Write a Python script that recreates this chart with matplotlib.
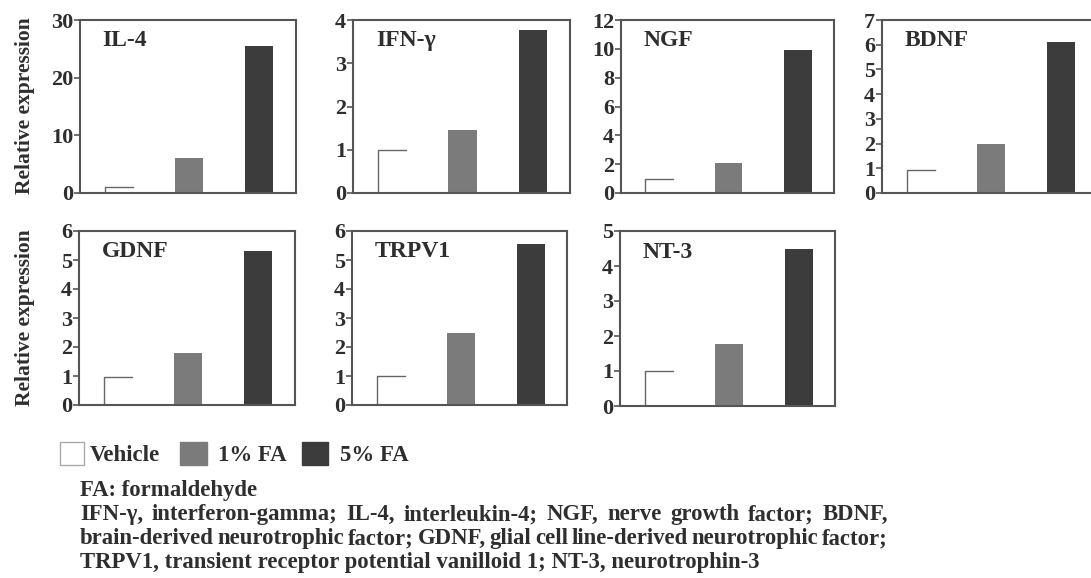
import matplotlib
matplotlib.use("Agg")
import matplotlib.pyplot as plt
from matplotlib.patches import Rectangle

plt.rcParams["font.family"] = ["Liberation Serif", "DejaVu Serif"]
plt.rcParams["font.weight"] = "bold"

# data
markers = ["IL-4", "IFN-\u03b3", "NGF", "BDNF", "GDNF", "TRPV1", "NT-3"]
vehicle = [1.05, 1.0, 0.95, 0.95, 0.97, 1.0, 1.0]
fa_1 = [6.1, 1.45, 2.05, 2.0, 1.8, 2.5, 1.78]
fa_5 = [25.5, 3.78, 9.9, 6.1, 5.3, 5.55, 4.5]
y_max = [30, 4, 12, 7, 6, 6, 5]
y_step = [10, 1, 2, 1, 1, 1, 1]
groups = ["Vehicle", "1% FA", "5% FA"]

W, H = 1091, 578
# axes boxes in pixels: left, top, width, height
boxes = [
    (80, 20, 216, 173), (353, 20, 217, 173), (621, 20, 213, 173), (882, 20, 215, 173),
    (79, 231, 216, 174), (352, 231, 215, 174), (620, 231, 215, 175),
]

TXT = "#2e2e2e"
SPINE = "#555555"
C1 = "#7b7b7b"
C5 = "#3c3c3c"

fig = plt.figure(figsize=(W / 100, H / 100), dpi=100)
fig.patch.set_facecolor("white")

for i, name in enumerate(markers):
    l, t, w, h = boxes[i]
    ax = fig.add_axes([l / W, 1 - (t + h) / H, w / W, h / H])
    x = [0, 1, 2]
    bw = 0.4
    ax.bar(x[1], fa_1[i], width=bw, color=C1, zorder=2)
    ax.bar(x[2], fa_5[i], width=bw, color=C5, zorder=2)
    # open vehicle bar: only left and top edge show in the scan
    ax.plot([x[0] - bw / 2, x[0] - bw / 2, x[0] + bw / 2], [0, vehicle[i], vehicle[i]],
            color="#666666", lw=1.0, zorder=2)
    ax.set_xlim(-0.55, 2.52)
    ax.set_ylim(0, y_max[i])
    ax.set_yticks(range(0, y_max[i] + 1, y_step[i]))
    ax.set_xticks([])
    for s in ax.spines.values():
        s.set_color(SPINE)
        s.set_linewidth(1.5)
    ax.tick_params(axis="y", length=4, width=1.2, color=SPINE, pad=1,
                   labelsize=16, labelcolor=TXT)
    ax.text(0.105, 0.88, name, transform=ax.transAxes, fontsize=17,
            color=TXT, va="center", ha="left")

for yc in [106, 318]:
    fig.text(25 / W, 1 - yc / H, "Relative expression", rotation=90,
             fontsize=15.5, color=TXT, ha="center", va="center")

# legend
leg = [(60, 24, "white", 90), (180, 27, C1, 218), (302, 26, C5, 340)]
for (lx, lw_, col, tx), lab in zip(leg, groups):
    fig.patches.append(Rectangle((lx / W, 1 - 465 / H), lw_ / W, 23 / H,
                                 transform=fig.transFigure, facecolor=col,
                                 edgecolor="#aaaaaa" if col == "white" else col, lw=1))
    fig.text(tx / W, 1 - 461 / H, lab, fontsize=16.5, color=TXT, va="baseline")

notes = [
    "FA: formaldehyde",
    "IFN-\u03b3, interferon-gamma; IL-4, interleukin-4; NGF, nerve growth factor; BDNF,",
    "brain-derived neurotrophic factor; GDNF, glial cell line-derived neurotrophic factor;",
    "TRPV1, transient receptor potential vanilloid 1; NT-3, neurotrophin-3",
]
note_base = [496, 520, 544, 568]

fig.canvas.draw()
renderer = fig.canvas.get_renderer()

# size the footnote so the last line spans the same width as in the scan
probe = fig.text(0, 0, notes[3], fontsize=10)
fs = 10 * 682 / probe.get_window_extent(renderer).width
probe.remove()


def justified(line, y, x0, x1):
    words = line.split(" ")
    arts = [fig.text(0, 1 - y / H, wd, fontsize=fs, color=TXT, va="baseline") for wd in words]
    widths = [a.get_window_extent(renderer).width for a in arts]
    gap = (x1 - x0 - sum(widths)) / (len(words) - 1)
    cx = x0
    for a, wd in zip(arts, widths):
        a.set_x(cx / W)
        cx += wd + gap


for k, (line, y) in enumerate(zip(notes, note_base)):
    if k in (1, 2):
        justified(line, y, 80, 888)
    else:
        fig.text(80 / W, 1 - y / H, line, fontsize=fs, color=TXT, va="baseline")

fig.savefig("out.png", dpi=100, facecolor="white")
